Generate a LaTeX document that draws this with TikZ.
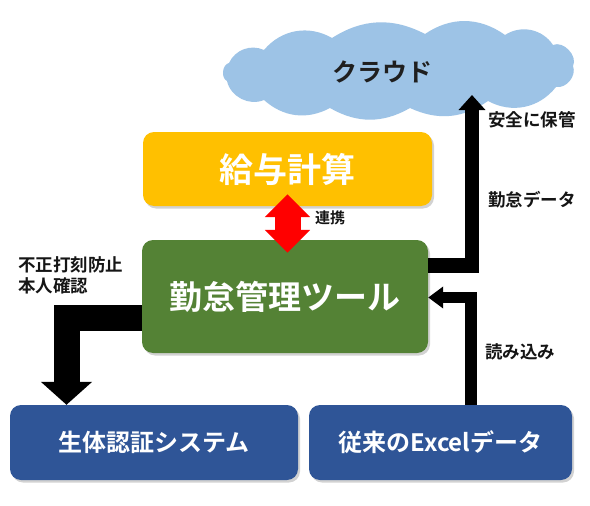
\documentclass[tikz,border=0pt]{standalone}
\usepackage{fontspec}
\setmainfont{Noto Sans CJK JP}[BoldFont={Noto Sans CJK JP Bold}]
\usetikzlibrary{arrows.meta,shadows}
\definecolor{payorange}{HTML}{FFC000}
\definecolor{toolgreen}{HTML}{548235}
\definecolor{sysblue}{HTML}{2F5597}
\definecolor{cloudblue}{HTML}{9DC3E6}
\definecolor{labelblack}{HTML}{151515}
\tikzset{
  box/.style={rounded corners=11pt, inner sep=0pt, text=white,
    drop shadow={shadow xshift=2pt, shadow yshift=-2.5pt, opacity=0.35}},
  lbl/.style={inner sep=0pt, text=labelblack, font=\bfseries\fontsize{17.5}{21}\selectfont},
  fatarrow/.style={line join=miter, line cap=butt, draw=black},
  puff/.style={bend left=#1},
}
\begin{document}
\begin{tikzpicture}[x=1pt,y=-1pt]
\useasboundingbox[fill=white] (0,0) rectangle (590,506);
% cloud
\fill[cloudblue] (227,81) to[puff=70] (229,63) to[puff=45] (264,50) to[puff=40] (332,38)
  to[puff=30] (425,34) to[puff=35] (505,35) to[puff=45] (553,45) to[puff=70] (573,66)
  to[puff=60] (556,87) to[puff=40] (488,101) to[puff=30] (410,108) to[puff=30] (330,108)
  to[puff=35] (264,100) to[puff=50] cycle;
\node[inner sep=0pt, text=black!88, font=\bfseries\fontsize{25}{25}\selectfont] (cloudlbl) at (382,72) {クラウド};
% boxes
\node[box, fill=payorange, minimum width=289pt, minimum height=74pt,
  font=\bfseries\fontsize{34}{34}\selectfont] (pay) at (287.5,169) {給与計算};
\node[box, fill=toolgreen, minimum width=286pt, minimum height=113pt,
  font=\bfseries\fontsize{33}{33}\selectfont] (tool) at (285,296.5) {\raisebox{2pt}{勤怠管理ツール}};
\node[box, fill=sysblue, minimum width=288pt, minimum height=75pt,
  font=\bfseries\fontsize{24}{24}\selectfont] (bio) at (154,442.5) {生体認証システム};
\node[box, fill=sysblue, minimum width=263pt, minimum height=75pt,
  font=\bfseries\fontsize{24}{24}\selectfont] (excel) at (440.5,442.5) {従来のExcelデータ};
% red link arrow
\draw[draw=red, line width=26pt, {Triangle[width=44pt,length=23pt]}-{Triangle[width=44pt,length=23pt]}]
  ([yshift=12pt]pay.south) -- ([yshift=-13pt]pay.south |- tool.north);
\node[lbl, anchor=west, font=\bfseries\fontsize{15}{15}\selectfont] (renkei) at (315,218) {連携};
% left arrow to biometric system
\coordinate (lbend) at (66.5,317.5);
\draw[fatarrow, line width=26pt, -{Triangle[width=50pt,length=23pt]}]
  (tool.west |- lbend) -- (lbend) -- (lbend |- bio.north);
\node[lbl, anchor=north west, align=left] (fusei) at (18,256) {不正打刻防止\\本人確認};
% arrow to cloud
\coordinate (cbend) at (472,265.5);
\coordinate (ctip) at (472,95);
\draw[fatarrow, line width=14.5pt, -{Triangle[width=26pt,length=15pt]}]
  (tool.east |- cbend) -- (cbend) -- (ctip);
\node[lbl, anchor=west] (anzen) at (488,120) {安全に保管};
\node[lbl, anchor=west] (kintai) at (488,200) {勤怠データ};
% arrow from excel
\coordinate (ebend) at (471,297.5);
\draw[fatarrow, line width=11.5pt, -{Triangle[width=21pt,length=15pt]}]
  (excel.north -| ebend) -- (ebend) -- (tool.east |- ebend);
\node[lbl, anchor=west] (yomi) at (485,352) {読み込み};
\end{tikzpicture}
\end{document}
